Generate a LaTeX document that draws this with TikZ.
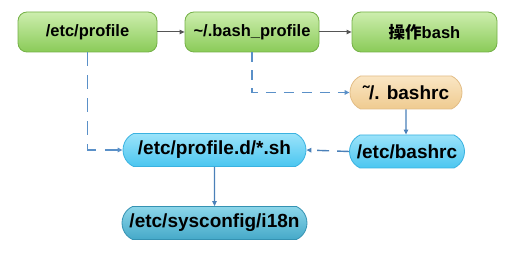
\documentclass[tikz,border=0pt]{standalone}
\usepackage{fontspec}
\setmainfont{Liberation Sans}
\newfontfamily\cjk{Noto Sans CJK SC}
\usetikzlibrary{arrows.meta,shapes.misc}

\definecolor{grnTop}{HTML}{CDEEAE}
\definecolor{grnBot}{HTML}{8ACB58}
\definecolor{grnLine}{HTML}{74B046}
\definecolor{bluTop}{HTML}{9BE3FA}
\definecolor{bluBot}{HTML}{4BC6F0}
\definecolor{bluLine}{HTML}{3AB2E0}
\definecolor{tealTop}{HTML}{8CD6EA}
\definecolor{tealBot}{HTML}{45A9C8}
\definecolor{tealLine}{HTML}{3592B2}
\definecolor{sandTop}{HTML}{FAE6C4}
\definecolor{sandBot}{HTML}{EFCB90}
\definecolor{sandLine}{HTML}{E2BD86}
\definecolor{linkGray}{HTML}{555555}
\definecolor{linkBlue}{HTML}{4A80B8}
\definecolor{dashBlue}{HTML}{5A90C8}

\tikzset{
  greenbox/.style={draw=grnLine, line width=0.8pt, rounded corners=9pt,
    top color=grnTop, bottom color=grnBot, inner sep=0pt,
    minimum height=40pt, font=\bfseries\fontsize{16.5}{18}\selectfont},
  capbox/.style={rounded rectangle, rounded rectangle arc length=130,
    line width=0.8pt, inner sep=0pt, minimum height=33pt,
    font=\bfseries\fontsize{19}{21}\selectfont},
  bluebox/.style={capbox, draw=bluLine, top color=bluTop, bottom color=bluBot},
  tealbox/.style={capbox, draw=tealLine, top color=tealTop, bottom color=tealBot},
  sandbox/.style={capbox, draw=sandLine, top color=sandTop, bottom color=sandBot},
  seq/.style={draw=linkGray, line width=1pt, -{Triangle[length=5pt,width=4.5pt]}},
  calls/.style={draw=linkBlue, line width=1.1pt, -{Triangle[length=5pt,width=4.5pt]}},
  loads/.style={draw=dashBlue, line width=1.4pt, dash pattern=on 10pt off 8pt,
    -{Triangle[length=5pt,width=4.5pt]}}
}

\begin{document}
\begin{tikzpicture}[x=1pt, y=-1pt]
  \useasboundingbox (0,0) rectangle (514,256);

  % login chain
  \node[greenbox, minimum width=139pt] (prof)  at (87.5,32) {/etc/profile};
  \node[greenbox, minimum width=134pt] (bprof) at (252,32)  {\textasciitilde/.bash\_profile};
  \node[greenbox, minimum width=145pt] (run)   at (424.5,32) {{\cjk\bfseries 操作}bash};

  % rc files
  \node[sandbox, minimum width=112pt] (ubrc) at (406,92.5)  {˜/. bashrc};
  \node[bluebox, minimum width=115pt] (ebrc) at (407,151.5) {/etc/bashrc};
  \node[bluebox, minimum width=183pt] (profd) at (214.5,150) {/etc/profile.d/*.sh};
  \node[tealbox, minimum width=185pt] (i18n) at (214.5,223) {/etc/sysconfig/i18n};

  % connectors
  \draw[seq] (prof) -- (bprof);
  \draw[seq] (bprof) -- (run);
  \draw[loads, dash pattern=on 14pt off 9pt] (prof.south) |- (profd.west);
  \draw[loads] (bprof.south) |- (ubrc.west);
  \draw[loads, dash pattern=on 12pt off 8pt, draw=linkBlue] (ebrc.west) -- (profd.east);
  \draw[calls] (ubrc) -- (ebrc.north -| ubrc);
  \draw[calls] (profd) -- (i18n);
\end{tikzpicture}
\end{document}
